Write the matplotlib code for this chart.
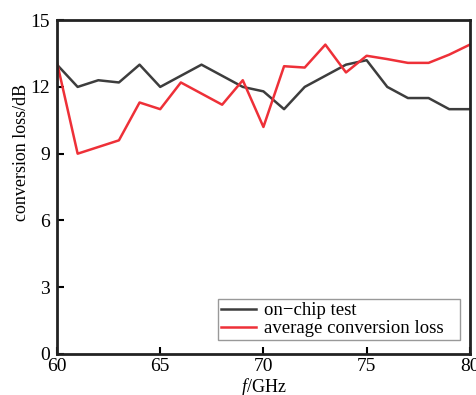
import matplotlib.pyplot as plt

plt.rcParams['font.family'] = ['Liberation Serif', 'DejaVu Serif']
plt.rcParams['mathtext.fontset'] = 'custom'
plt.rcParams['mathtext.it'] = 'Liberation Serif:italic'
plt.rcParams['mathtext.rm'] = 'Liberation Serif'

freq = list(range(60, 81))
on_chip = [13.0, 12.0, 12.3, 12.2, 13.0, 12.0, 12.5, 13.0, 12.5, 12.0, 11.8,
           11.0, 12.0, 12.5, 13.0, 13.2, 12.0, 11.5, 11.5, 11.0, 11.0]
avg_loss = [13.1, 9.0, 9.3, 9.6, 11.3, 11.0, 12.2, 11.7, 11.2, 12.3, 10.2,
            12.93, 12.87, 13.9, 12.65, 13.4, 13.25, 13.08, 13.08, 13.45, 13.9]

fig = plt.figure(figsize=(4.77, 3.95), dpi=100)
ax = fig.add_axes([0.1195, 0.1038, 0.8655, 0.8452])

ax.plot(freq, on_chip, color='#3d3d3d', linewidth=1.8, label='on\u2212chip test')
ax.plot(freq, avg_loss, color='#ee3038', linewidth=1.8, label='average conversion loss')

ax.set_xlim(60, 80)
ax.set_ylim(0, 15)
ax.set_xticks([60, 65, 70, 75, 80])
ax.set_yticks([0, 3, 6, 9, 12, 15])
ax.tick_params(direction='in', length=5, width=1.5, labelsize=14)
ax.tick_params(axis='x', pad=3)
ax.tick_params(axis='y', pad=5)
for s in ax.spines.values():
    s.set_linewidth(2)
    s.set_color('#222222')

ax.set_xlabel('$f$/GHz', fontsize=13)
ax.set_ylabel('conversion loss/dB', fontsize=13)
ax.xaxis.set_label_coords(0.5, -0.066)
ax.yaxis.set_label_coords(-0.065, 0.605)

# legend box is wider than its content in the original -> expand mode
leg = ax.legend(loc='lower left', bbox_to_anchor=(0.39, 0.042, 0.586, 0.126),
                mode='expand', borderaxespad=0, fontsize=13.5, fancybox=False,
                framealpha=1, edgecolor='#999999', handlelength=1.9,
                borderpad=0.15, labelspacing=0.05, handletextpad=0.4)
leg.get_frame().set_linewidth(1)

fig.savefig('out.png', dpi=100)
